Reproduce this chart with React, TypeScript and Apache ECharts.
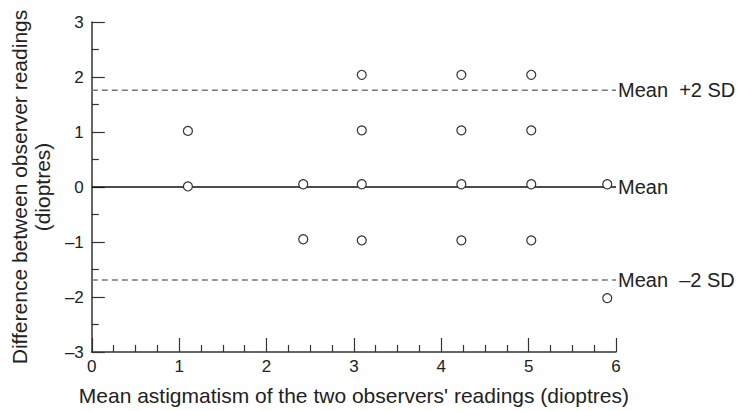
import React, { useEffect, useRef } from "react";
import * as echarts from "echarts";

const xValues = [1.1, 1.1, 2.42, 2.42, 3.09, 3.09, 3.09, 3.09, 4.23, 4.23, 4.23, 4.23, 5.03, 5.03, 5.03, 5.03, 5.9, 5.9];
const yValues = [1.02, 0.01, 0.05, -0.95, 2.04, 1.03, 0.05, -0.97, 2.04, 1.03, 0.05, -0.97, 2.04, 1.03, 0.05, -0.97, 0.05, -2.02];
const meanValue = 0;
const upperLimit = 1.76;
const lowerLimit = -1.69;
const xTicks = [0, 1, 2, 3, 4, 5, 6];
const yTicks = [-3, -2, -1, 0, 1, 2, 3];

const FONT = "Liberation Sans";

export default function App() {
  const ref = useRef<HTMLDivElement>(null);
  useEffect(() => {
    if (!ref.current) return;
    const chart = echarts.init(ref.current, null, { renderer: "svg" });
    const points = xValues.map((x, i) => [x, yValues[i]]);
    const axisCommon = {
      axisLine: { show: true, onZero: false, lineStyle: { color: "#333", width: 1.5 } },
      axisTick: { show: true, inside: true, lineStyle: { color: "#333", width: 1.2 } },
      minorTick: { show: true, lineStyle: { color: "#333", width: 1.2 } },
      splitLine: { show: false },
      axisLabel: { color: "#222", fontSize: 17, fontFamily: FONT },
      nameTextStyle: { color: "#222", fontSize: 21, fontFamily: FONT },
    };
    const endLabelStyle = { show: true, color: "#222", fontSize: 20, fontFamily: FONT, distance: 2 };
    chart.setOption({
      animation: false,
      backgroundColor: "#fff",
      grid: { left: 87, top: 22, right: 123, bottom: 58, containLabel: false },
      xAxis: {
        ...axisCommon,
        type: "value",
        min: xTicks[0],
        max: xTicks[xTicks.length - 1],
        interval: 1,
        name: "Mean astigmatism of the two observers' readings (dioptres)",
        nameLocation: "middle",
        nameGap: 33,
        axisTick: { ...axisCommon.axisTick, length: 14 },
        minorTick: { ...axisCommon.minorTick, splitNumber: 4, length: 7 },
        axisLabel: { ...axisCommon.axisLabel, margin: 6 },
      },
      yAxis: {
        ...axisCommon,
        type: "value",
        min: yTicks[0],
        max: yTicks[yTicks.length - 1],
        interval: 1,
        name: "Difference between observer readings\n(dioptres)",
        nameLocation: "middle",
        nameGap: 33,
        nameTextStyle: { ...axisCommon.nameTextStyle, lineHeight: 23 },
        axisTick: { ...axisCommon.axisTick, length: 13 },
        minorTick: { ...axisCommon.minorTick, splitNumber: 2, length: 7 },
        axisLabel: {
          ...axisCommon.axisLabel,
          margin: 8,
          formatter: (v: number) => (v < 0 ? "\u2013" + Math.abs(v) : String(v)),
        },
      },
      series: [
        {
          type: "line",
          data: [[0, upperLimit], [6, upperLimit]],
          symbol: "none",
          lineStyle: { color: "#777", width: 1.5, type: [6, 4] },
          z: 1,
          endLabel: { ...endLabelStyle, formatter: "Mean  +2 SD" },
        },
        {
          type: "line",
          data: [[0, lowerLimit], [6, lowerLimit]],
          symbol: "none",
          lineStyle: { color: "#777", width: 1.5, type: [6, 4] },
          z: 1,
          endLabel: { ...endLabelStyle, formatter: "Mean  \u20132 SD" },
        },
        {
          type: "line",
          data: [[0, meanValue], [6, meanValue]],
          symbol: "none",
          lineStyle: { color: "#111", width: 1.3 },
          z: 1,
          endLabel: { ...endLabelStyle, formatter: "Mean" },
        },
        {
          type: "scatter",
          data: points,
          symbol: "circle",
          symbolSize: 9,
          itemStyle: { color: "#fff", borderColor: "#333", borderWidth: 1.2, opacity: 1 },
          z: 3,
        },
      ],
    });
    return () => chart.dispose();
  }, []);
  return <div ref={ref} style={{ width: 739, height: 411, position: "absolute", left: 0, top: 0 }} />;
}
